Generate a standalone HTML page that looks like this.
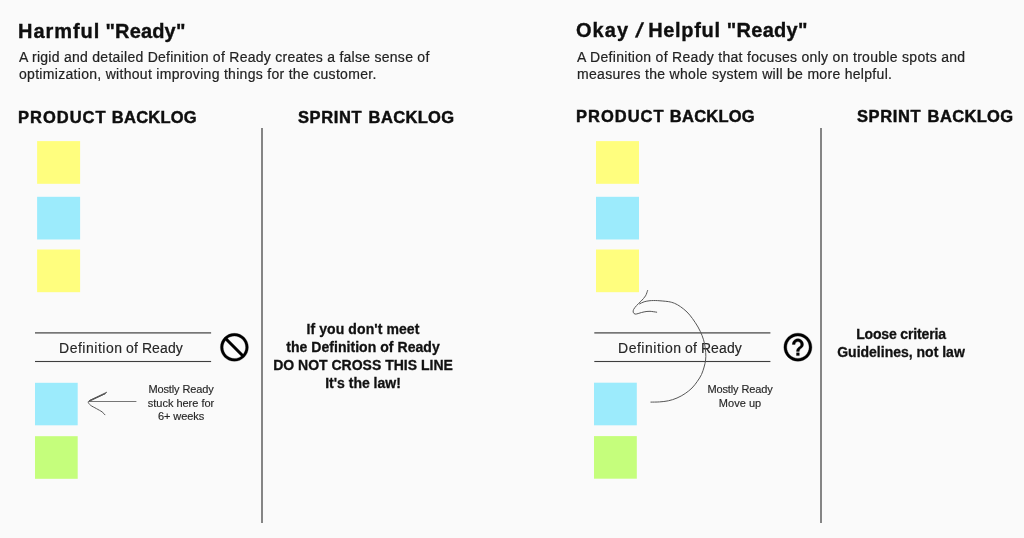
<!DOCTYPE html>
<html lang="en">
<head>
<meta charset="utf-8">
<title>Definition of Ready: Harmful vs Helpful</title>
<style>
  html, body { margin: 0; padding: 0; }
  body {
    width: 1024px; height: 538px; overflow: hidden;
    background: #fafafa;
    font-family: "Liberation Sans", sans-serif;
    color: #111;
    position: relative;
  }
  .t { position: absolute; white-space: nowrap; line-height: 1; will-change: transform; }
  .title { font-size: 20px; font-weight: bold; color: #0e0e0e; -webkit-text-stroke: 0.35px #0e0e0e; }
  .sl { display: inline-block; transform: skewX(-14deg); transform-origin: 50% 60%; width: 8px; text-align: center; }
  .sub { font-size: 14px; color: #222; -webkit-text-stroke: 0.2px #222; }
  .head { font-size: 16.5px; font-weight: bold; color: #0e0e0e; -webkit-text-stroke: 0.45px #0e0e0e; }
  .dor { font-size: 14px; color: #262626; letter-spacing: 0.25px; -webkit-text-stroke: 0.15px #262626; }
  .note { font-size: 11px; color: #262626; text-align: center; -webkit-text-stroke: 0.15px #262626; }
  .law { font-size: 14px; font-weight: bold; color: #111; text-align: center; -webkit-text-stroke: 0.3px #111; }
  .vl { position: absolute; width: 2px; background: #858585; }
  svg { position: absolute; left: 0; top: 0; }
</style>
</head>
<body>

<!-- ============ LEFT PANEL ============ -->
<div class="t title" style="left:17.6px; top:21.1px;"><span style="letter-spacing:0.95px;">Harmful</span> <span style="letter-spacing:0.16px; margin-left:-0.36px;">"Ready"</span></div>
<div class="t sub" style="left:18.5px; top:50.1px; letter-spacing:0.27px;">A rigid and detailed Definition of Ready creates a false sense of</div>
<div class="t sub" style="left:18.5px; top:67.4px; letter-spacing:0.3px;">optimization, without improving things for the customer.</div>

<div class="t head" style="left:17.8px; top:108.6px;"><span style="letter-spacing:1px;">PRODUCT</span> <span style="letter-spacing:0.25px; margin-left:0.61px;">BACKLOG</span></div>
<div class="t head" style="left:298.2px; top:108.6px;"><span style="letter-spacing:0.6px;">SPRINT</span> <span style="letter-spacing:0.35px; margin-left:1.91px;">BACKLOG</span></div>


<div class="t dor" style="left:59.3px; top:340.5px; letter-spacing:0;"><span style="letter-spacing:0.52px;">Definition</span> <span style="letter-spacing:0.3px; margin-left:-0.49px;">of</span> <span style="letter-spacing:0.12px; margin-left:-0.29px;">Ready</span></div>


<div class="t note" style="left:131px; width:100px; top:384.1px; letter-spacing:-0.12px;">Mostly Ready</div>
<div class="t note" style="left:131px; width:100px; top:398.4px; letter-spacing:-0.02px;">stuck here for</div>
<div class="t note" style="left:131px; width:100px; top:410.9px; letter-spacing:-0.07px;">6+ weeks</div>

<div class="vl" style="left:261px; top:128px; height:394.5px;"></div>

<div class="t law" style="left:263px; width:200px; top:322.2px; letter-spacing:0.09px;">If you don't meet</div>
<div class="t law" style="left:263px; width:200px; top:340.3px; letter-spacing:0.05px;">the Definition of Ready</div>
<div class="t law" style="left:263px; width:200px; top:358.1px;">DO NOT CROSS THIS LINE</div>
<div class="t law" style="left:263px; width:200px; top:376px;">It's the law!</div>

<!-- ============ RIGHT PANEL ============ -->
<div class="t title" style="left:576.2px; top:19.6px;"><span style="letter-spacing:1.05px;">Okay</span> <span class="sl" style="margin-left:0.44px;">/</span> <span style="letter-spacing:0.68px; margin-left:-0.56px;">Helpful</span> <span style="letter-spacing:0.3px; margin-left:0.44px;">"Ready"</span></div>
<div class="t sub" style="left:577px; top:49.9px; letter-spacing:0.3px;">A Definition of Ready that focuses only on trouble spots and</div>
<div class="t sub" style="left:577px; top:67.2px; letter-spacing:0.3px;">measures the whole system will be more helpful.</div>

<div class="t head" style="left:575.9px; top:108px;"><span style="letter-spacing:1px;">PRODUCT</span> <span style="letter-spacing:0.25px; margin-left:0.61px;">BACKLOG</span></div>
<div class="t head" style="left:857.4px; top:108px;"><span style="letter-spacing:0.6px;">SPRINT</span> <span style="letter-spacing:0.35px; margin-left:1.91px;">BACKLOG</span></div>


<div class="t dor" style="left:618.1px; top:340.5px; letter-spacing:0;"><span style="letter-spacing:0.52px;">Definition</span> <span style="letter-spacing:0.3px; margin-left:-0.49px;">of</span> <span style="letter-spacing:0.12px; margin-left:-0.29px;">Ready</span></div>


<div class="t note" style="left:690px; width:100px; top:384.1px; letter-spacing:-0.12px;">Mostly Ready</div>
<div class="t note" style="left:690px; width:100px; top:398.4px; letter-spacing:0.03px;">Move up</div>

<div class="vl" style="left:820px; top:128px; height:394.5px;"></div>

<div class="t law" style="left:801.4px; width:200px; top:326.8px; letter-spacing:-0.15px;">Loose criteria</div>
<div class="t law" style="left:801.4px; width:200px; top:344.8px;">Guidelines, not law</div>

<!-- ============ ICONS & ARROWS ============ -->
<svg width="1024" height="538" viewBox="0 0 1024 538" fill="none">
  <!-- sticky notes: left panel -->
  <rect x="37.1" y="141.1" width="43" height="42.7" fill="#fffe7e"/>
  <rect x="37.1" y="196.8" width="43" height="42.7" fill="#9cebfc"/>
  <rect x="37.1" y="249.5" width="43" height="42.7" fill="#fffe7e"/>
  <rect x="35" y="382.8" width="42.7" height="42.5" fill="#9cebfc"/>
  <rect x="35" y="436.2" width="42.7" height="42.6" fill="#c5fe7c"/>
  <!-- sticky notes: right panel -->
  <rect x="596" y="141.1" width="43" height="42.7" fill="#fffe7e"/>
  <rect x="596" y="196.8" width="43" height="42.7" fill="#9cebfc"/>
  <rect x="596" y="249.5" width="43" height="42.7" fill="#fffe7e"/>
  <rect x="594" y="382.7" width="42.8" height="42.6" fill="#9cebfc"/>
  <rect x="594" y="436.1" width="42.8" height="42.6" fill="#c5fe7c"/>

  <!-- horizontal rules around "Definition of Ready" -->
  <g fill="#3e3e3e">
    <rect x="35" y="332.3" width="176.1" height="1.2"/>
    <rect x="35" y="360.95" width="176.1" height="1.1"/>
    <rect x="594.3" y="332.3" width="176.1" height="1.2"/>
    <rect x="594.3" y="360.95" width="176.1" height="1.1"/>
  </g>

  <!-- prohibited icon (24-unit glyph scaled 1.4) -->
  <g transform="translate(251.2 330.5) scale(-1.4 1.4)" fill="#000" stroke="#000" stroke-width="0.18" stroke-linejoin="round">
    <path d="M12 2C6.48 2 2 6.48 2 12s4.48 10 10 10 10-4.48 10-10S17.52 2 12 2zM4 12c0-4.42 3.58-8 8-8 1.85 0 3.55.63 4.9 1.69L5.69 16.9C4.63 15.55 4 13.85 4 12zm8 8c-1.850 0-3.550-.63-4.900-1.690L18.310 7.100C19.370 8.450 20 10.150 20 12c0 4.420-3.580 8-8 8z"/>
  </g>

  <!-- left straight arrow -->
  <g stroke="#555" stroke-width="1" stroke-linecap="round" stroke-linejoin="round">
    <path d="M136 401.5 L89 401.5" stroke="#666" stroke-width="0.9"/>
    <path d="M106.6 392.3 L89.2 400.7 L105.6 393.5 L89.6 401.2"/>
    <path d="M89.6 400.600 C89.400 400.900 88.000 401.400 88.200 402.200 C88.400 403.000 89.200 404.200 90.600 405.300 C92.000 406.400 94.500 407.500 96.400 408.600 C98.300 409.700 100.700 410.900 102.100 411.900 C103.500 412.900 104.400 414.300 104.900 414.800"/>
  </g>

  <!-- question icon (24-unit glyph scaled 1.4) -->
  <g transform="translate(781.1 330.4) scale(1.4)" fill="#000" stroke="#000" stroke-width="0.25" stroke-linejoin="round">
    <path d="M11 18h2v-2h-2v2zm1-16C6.48 2 2 6.48 2 12s4.48 10 10 10 10-4.48 10-10S17.52 2 12 2zm0 18c-4.41 0-8-3.59-8-8s3.59-8 8-8 8 3.59 8 8-3.59 8-8 8zm0-14c-2.21 0-4 1.79-4 4h2c0-1.100.900-2 2-2s2 .900 2 2c0 2-3 1.750-3 5h2c0-2.250 3-2.500 3-5 0-2.210-1.790-4-4-4z"/>
  </g>

  <!-- right curved arrow -->
  <g stroke="#555" stroke-width="1" stroke-linecap="round" stroke-linejoin="round">
    <path d="M650.9 402.1 C652.3 402.1 656.6 402.1 659.5 401.9 C662.4 401.7 665.4 401.4 668.3 400.8 C671.2 400.2 674.2 399.2 677.0 398.0 C679.8 396.8 682.7 395.2 685.2 393.5 C687.7 391.8 690.0 390.0 692.0 388.0 C694.0 386.0 695.7 383.6 697.3 381.4 C698.9 379.1 700.4 376.9 701.5 374.5 C702.6 372.1 703.4 369.4 704.1 367.0 C704.8 364.6 705.3 362.4 705.6 360.0 C705.9 357.6 705.9 355.2 705.7 352.5 C705.5 349.8 705.2 346.8 704.6 344.0 C704.0 341.2 703.2 338.4 702.1 335.6 C701.0 332.8 699.6 329.8 698.0 327.0 C696.4 324.2 694.3 321.1 692.5 318.6 C690.7 316.1 689.0 314.0 687.0 312.0 C685.0 310.0 682.5 308.1 680.4 306.6 C678.3 305.2 676.5 304.1 674.5 303.3 C672.5 302.5 671.1 302.1 668.3 301.6 C665.4 301.2 660.4 300.8 657.4 300.6 C654.4 300.5 652.2 300.5 650.0 300.7 C647.8 300.9 645.8 301.3 644.1 301.8 C642.4 302.3 640.4 303.5 639.6 303.9"/>
    <path d="M647.6 290.5 C647.2 291.4 646.6 294.1 645.5 295.9 C644.4 297.7 642.6 299.5 641.1 301.1 C639.6 302.7 637.8 304.1 636.6 305.5 C635.4 306.9 634.3 308.2 633.7 309.3 C633.1 310.4 633.0 311.4 633.2 312.2 C633.4 313.0 634.2 313.9 635.1 314.1 C636.0 314.3 637.4 313.7 638.9 313.3 C640.4 312.9 642.2 312.2 644.1 311.9 C646.0 311.6 647.9 311.2 650.0 311.3 C652.1 311.4 655.6 312.1 656.7 312.2"/>
  </g>
</svg>

</body>
</html>
